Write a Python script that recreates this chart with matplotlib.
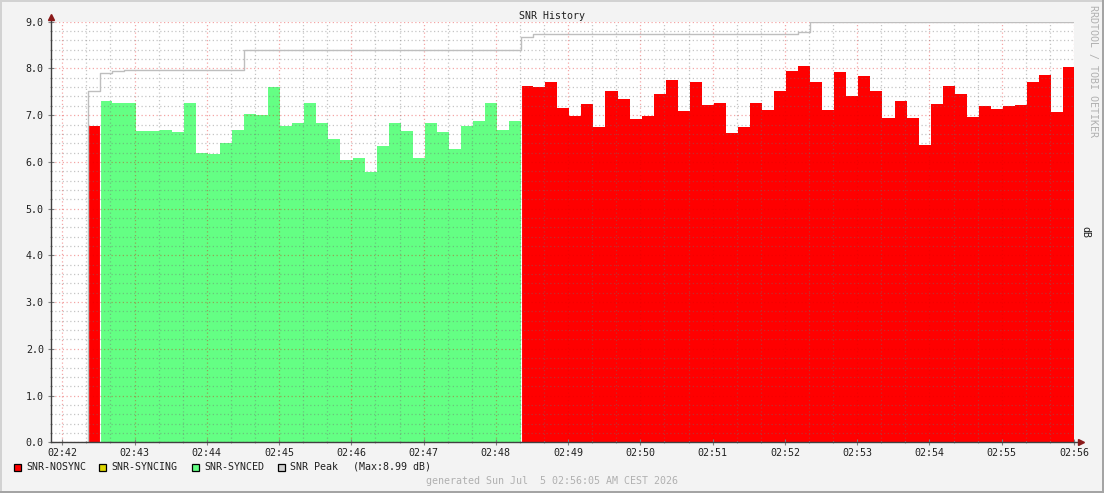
import matplotlib
matplotlib.use("Agg")
import matplotlib.pyplot as plt
from matplotlib.patches import Rectangle
from matplotlib.ticker import MultipleLocator, FixedLocator

# SNR samples, 10 s apart, starting 02:42:21 (seconds after 02:42:00)
start_sec = 21
step_sec = 10
snr_values = [6.76,
              7.31, 7.27, 7.27, 6.67, 6.67, 6.69, 6.65, 7.27, 6.18, 6.16,
              6.41, 6.69, 7.03, 7.01, 7.61, 6.76, 6.84, 7.27, 6.84, 6.48,
              6.05, 6.09, 5.79, 6.35, 6.84, 6.67, 6.09, 6.84, 6.63, 6.28,
              6.76, 6.88, 7.25, 6.69, 6.88,
              7.63, 7.61, 7.70, 7.16, 6.99, 7.23, 6.74, 7.51, 7.34, 6.91,
              6.99, 7.46, 7.76, 7.08, 7.70, 7.21, 7.27, 6.61, 6.74, 7.25,
              7.10, 7.51, 7.94, 8.05, 7.72, 7.10, 7.92, 7.40, 7.83, 7.51,
              6.95, 7.31, 6.93, 6.37, 7.23, 7.63, 7.46, 6.97, 7.19, 7.14,
              7.19, 7.21, 7.72, 7.85, 7.06, 8.02]
sync_state = ['NOSYNC'] * 1 + ['SYNCED'] * 35 + ['NOSYNC'] * 46
peak_values = ([7.52, 7.90, 7.94] + [7.96] * 10 + [8.40] * 23 + [8.68]
               + [8.74] * 22 + [8.78] + [8.99] * 22)
peak_max = 8.99

time_labels = ['02:42', '02:43', '02:44', '02:45', '02:46', '02:47', '02:48',
               '02:49', '02:50', '02:51', '02:52', '02:53', '02:54', '02:55',
               '02:56']
legend_names = ['SNR-NOSYNC', 'SNR-SYNCING', 'SNR-SYNCED', 'SNR Peak']
state_colors = {'NOSYNC': '#FF0000', 'SYNCING': '#DDD600', 'SYNCED': '#64FF84'}
peak_color = '#BEBEBE'

W, H = 1104, 493
MONO = 'DejaVu Sans Mono'
FS = 7.2

fig = plt.figure(figsize=(W / 100, H / 100), dpi=100)
fig.patch.set_facecolor('#F3F3F3')

def fx(px):
    return px / W

def fy(py):
    return 1 - py / H

ax_l, ax_r, ax_t, ax_b = 50.7, 1074, 21.7, 442.3
ax = fig.add_axes([fx(ax_l), fy(ax_b), fx(ax_r - ax_l), (ax_b - ax_t) / H])
ax.set_facecolor('white')

times = [start_sec + step_sec * i for i in range(len(snr_values))]
colors = [state_colors[s] for s in sync_state]
ax.bar(times, snr_values, width=step_sec, align='edge', color=colors,
       linewidth=0, antialiased=False, zorder=2)

# thin white seam where the sync state changes
for i in range(1, len(sync_state)):
    if sync_state[i] != sync_state[i - 1]:
        ax.axvline(times[i], ymax=max(snr_values[i], snr_values[i - 1]) / 9.0,
                   color='white', lw=0.8, zorder=2.2)

# peak line, rising from zero at the first sample
px_ = [times[0]] + times + [times[-1] + step_sec]
py_ = [0] + peak_values + [peak_values[-1]]
ax.step(px_, py_, where='post', color=peak_color, lw=1, zorder=3)

ax.set_xlim(-9.6, 840)
ax.set_ylim(0, 9.0)

ax.xaxis.set_major_locator(FixedLocator([60 * i for i in range(len(time_labels))]))
ax.set_xticklabels(time_labels)
ax.xaxis.set_minor_locator(MultipleLocator(20))
ax.yaxis.set_major_locator(MultipleLocator(1.0))
ax.yaxis.set_minor_locator(MultipleLocator(0.2))
ax.yaxis.set_major_formatter(plt.FormatStrFormatter('%.1f'))

ax.tick_params(which='major', length=4, width=0.8, color='#808080', direction='inout')
ax.tick_params(which='minor', length=2, width=0.8, color='#A0A0A0', direction='inout')
ax.tick_params(which='both', labelsize=FS, labelcolor='#202020')
ax.tick_params(axis='x', pad=2)
ax.tick_params(axis='y', pad=3)

ax.grid(True, which='minor', color='#707070', alpha=0.4,
        linestyle=(0, (1, 2)), lw=0.9)
ax.grid(True, which='major', color='#E00000', alpha=0.35,
        linestyle=(0, (1, 2)), lw=0.9)
for gl in ax.get_xgridlines() + ax.get_ygridlines():
    gl.set_zorder(2.5)
ax.set_axisbelow(False)

for lab in ax.get_xticklabels() + ax.get_yticklabels():
    lab.set_family(MONO)

for s in ['top', 'right']:
    ax.spines[s].set_visible(False)
for s in ['left', 'bottom']:
    ax.spines[s].set_color('#404040')
    ax.spines[s].set_linewidth(1)
    ax.spines[s].set_zorder(4)

# axis extensions with arrows
ax.plot([0, 0], [1, 1.01], transform=ax.transAxes, color='#404040', lw=1, clip_on=False)
ax.plot([1, 1.005], [0, 0], transform=ax.transAxes, color='#404040', lw=1, clip_on=False)
ax.plot([0], [1.012], marker='^', ms=4, color='#8B1A1A', transform=ax.transAxes, clip_on=False)
ax.plot([1.0065], [0], marker='>', ms=4, color='#8B1A1A', transform=ax.transAxes, clip_on=False)

# texts
fig.text(fx(552), fy(16), 'SNR History', ha='center', va='center',
         family=MONO, fontsize=FS, color='#202020')
fig.text(fx(1093), fy(5), 'RRDTOOL / TOBI OETIKER', ha='center', va='top',
         rotation=270, family=MONO, fontsize=FS, color='#B0B0B0')
fig.text(fx(1085), fy(232), 'dB', ha='center', va='center', rotation=270,
         family=MONO, fontsize=FS, color='#202020')

# legend
leg_colors = [state_colors['NOSYNC'], state_colors['SYNCING'],
              state_colors['SYNCED'], '#D0D0D0']
box_x = [13.5, 99, 191.5, 277.5]
leg_y = 466.5
for name, c, bx in zip(legend_names, leg_colors, box_x):
    fig.patches.append(Rectangle((fx(bx), fy(leg_y + 4)), fx(7), 7 / H,
                                 transform=fig.transFigure, facecolor=c,
                                 edgecolor='black', lw=0.9))
    fig.text(fx(bx + 12.5), fy(leg_y), name, ha='left', va='center',
             family=MONO, fontsize=FS, color='#202020')
fig.text(fx(353), fy(leg_y), '(Max:%.2f dB)' % peak_max, ha='left', va='center',
         family=MONO, fontsize=FS, color='#202020')

fig.text(fx(552), fy(481), 'generated Sun Jul  5 02:56:05 AM CEST 2026',
         ha='center', va='center', family=MONO, fontsize=FS, color='#B0B0B0')

# canvas border
fig.patches.append(Rectangle((0, fy(2)), 1, 2 / H, transform=fig.transFigure,
                             facecolor='#D2D2D2', lw=0))
fig.patches.append(Rectangle((0, 0), fx(2), 1, transform=fig.transFigure,
                             facecolor='#D2D2D2', lw=0))
fig.patches.append(Rectangle((0, 0), 1, 2 / H, transform=fig.transFigure,
                             facecolor='#A4A4A4', lw=0))
fig.patches.append(Rectangle((fx(W - 2), 0), fx(2), 1, transform=fig.transFigure,
                             facecolor='#A4A4A4', lw=0))

fig.savefig('out.png', dpi=100, facecolor=fig.get_facecolor())
